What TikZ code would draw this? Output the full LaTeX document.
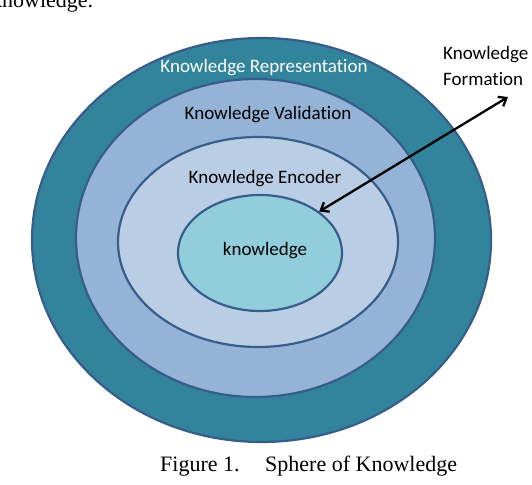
\documentclass[tikz,border=0pt]{standalone}
\usepackage{fontspec}
\setmainfont{Liberation Serif}
\newfontfamily\calfont[Ligatures=NoCommon]{Carlito}
\usetikzlibrary{arrows.meta,shapes.geometric}
\definecolor{ringteal}{HTML}{31849B}
\definecolor{ringblue}{HTML}{95B3D7}
\definecolor{ringpale}{HTML}{B9CDE5}
\definecolor{coreblue}{HTML}{92CDDC}
\definecolor{rimblue}{HTML}{385D8A}

\begin{document}
\begin{tikzpicture}[x=1pt,y=-1pt,>={Straight Barb[length=7pt,width=11pt]},
    ring/.style={ellipse,draw=rimblue,line width=2.2pt,inner sep=0pt},
    lab/.style={font=\calfont\fontsize{19}{26}\selectfont,inner sep=0pt,anchor=base},
    body/.style={font=\fontsize{22}{26}\selectfont,inner sep=0pt,anchor=base west}]
        \useasboundingbox (0,0) rectangle (532,484);
        % the four spheres, outside in
        \node[ring,fill=ringteal,minimum width=459pt,minimum height=404pt] (rep) at (261.5,240) {};
        \node[ring,fill=ringblue,minimum width=359pt,minimum height=318pt] (val) at (255.5,238) {};
        \node[ring,fill=ringpale,minimum width=280pt,minimum height=210pt] (enc) at (258,242) {};
        \node[ring,fill=coreblue,minimum width=164pt,minimum height=116pt] (knw) at (260,253) {};
        \node[lab,text=white] (reptext) at (264,73) {Knowledge Representation};
        \node[lab] (valtext) at (268,120) {Knowledge Validation};
        \node[lab] (enctext) at (265,183) {Knowledge Encoder};
        \node[lab] (knwtext) at (265,255) {knowledge};
        \node[lab,anchor=north west,align=left] (formtext) at (443,46) {Knowledge\\Formation};
        \coordinate (formtip) at (508,97);
        \draw[<->,line width=2.3pt] (knw.35) -- (formtip);
        % text of the page round the figure
        \node[body] (prevline) at (-9,8) {knowledge.};
        \node[body] (caption) at (160,471) {Figure 1.\hspace{25.6pt}Sphere of Knowledge};
      \end{tikzpicture}
\end{document}
